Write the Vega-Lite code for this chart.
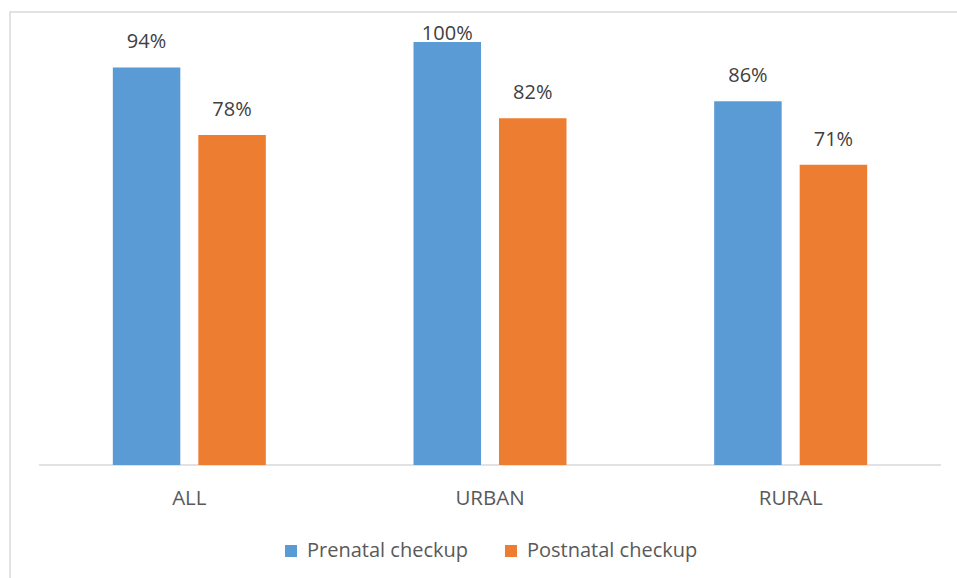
{
  "$schema": "https://vega.github.io/schema/vega-lite/v6.json",
  "width": 960,
  "height": 580,
  "autosize": {"type": "none"},
  "padding": {"left": 10, "top": 12, "right": 0, "bottom": 0},
  "background": "white",
  "config": {
    "font": "Open Sans",
    "view": {"stroke": "#d9d9d9", "strokeWidth": 1.5}
  },
  "layer": [
    {
      "data": {"values": [{"from": "ALL", "to": "RURAL"}]},
      "mark": {"type": "rule", "color": "#d9d9d9", "strokeWidth": 1.5},
      "encoding": {
        "x": {"field": "from", "type": "nominal", "bandPosition": 0},
        "x2": {"field": "to", "bandPosition": 1},
        "y": {"datum": 0, "type": "quantitative"}
      }
    },
    {
      "data": {
        "values": [
          {"area": "ALL", "series": "Prenatal checkup", "value": 0.94},
          {"area": "ALL", "series": "Postnatal checkup", "value": 0.78},
          {"area": "URBAN", "series": "Prenatal checkup", "value": 1.0},
          {"area": "URBAN", "series": "Postnatal checkup", "value": 0.82},
          {"area": "RURAL", "series": "Prenatal checkup", "value": 0.86},
          {"area": "RURAL", "series": "Postnatal checkup", "value": 0.71}
        ]
      },
      "layer": [
        {
          "mark": {"type": "bar"},
          "encoding": {
            "x": {
              "field": "area", "type": "nominal",
              "scale": {"type": "band", "domain": ["ALL", "URBAN", "RURAL"], "paddingInner": 0, "paddingOuter": 0.0964},
              "axis": {
                "title": null, "orient": "bottom", "offset": -127, "domain": false, "ticks": false, "tickSize": 0,
                "bandPosition": 0.5, "labelAlign": "center",
                "labelAngle": 0, "labelFontSize": 20.5, "labelColor": "#595959", "labelBaseline": "alphabetic",
                "labelPadding": 39, "grid": false
              }
            },
            "xOffset": {
              "field": "series", "type": "nominal",
              "scale": {"domain": ["Prenatal checkup", "Postnatal checkup"], "paddingInner": 0.2105, "paddingOuter": 0.8635}
            },
            "y": {
              "field": "value", "type": "quantitative",
              "scale": {"domain": [-0.3, 1.071], "nice": false, "zero": false},
              "axis": null
            },
            "color": {
              "field": "series", "type": "nominal",
              "scale": {"domain": ["Prenatal checkup", "Postnatal checkup"], "range": ["#5B9BD5", "#ED7D31"]},
              "legend": {
                "title": null, "orient": "none", "direction": "horizontal", "columns": 2,
                "legendX": 271, "legendY": 529, "padding": 0,
                "symbolType": "square", "symbolSize": 144, "symbolStrokeWidth": 0, "symbolOpacity": 1,
                "labelFontSize": 20, "labelColor": "#595959", "labelOffset": 6, "columnPadding": 33, "labelLimit": 300
              }
            }
          }
        },
        {
          "transform": [{"calculate": "min(datum.value, 0.96)", "as": "label_y"}],
          "mark": {"type": "text", "fontSize": 20, "color": "#404040", "baseline": "alphabetic", "dy": -19},
          "encoding": {
            "x": {"field": "area", "type": "nominal"},
            "xOffset": {"field": "series", "type": "nominal"},
            "y": {"field": "label_y", "type": "quantitative"},
            "text": {"field": "value", "type": "quantitative", "format": ".0%"}
          }
        }
      ]
    }
  ]
}
